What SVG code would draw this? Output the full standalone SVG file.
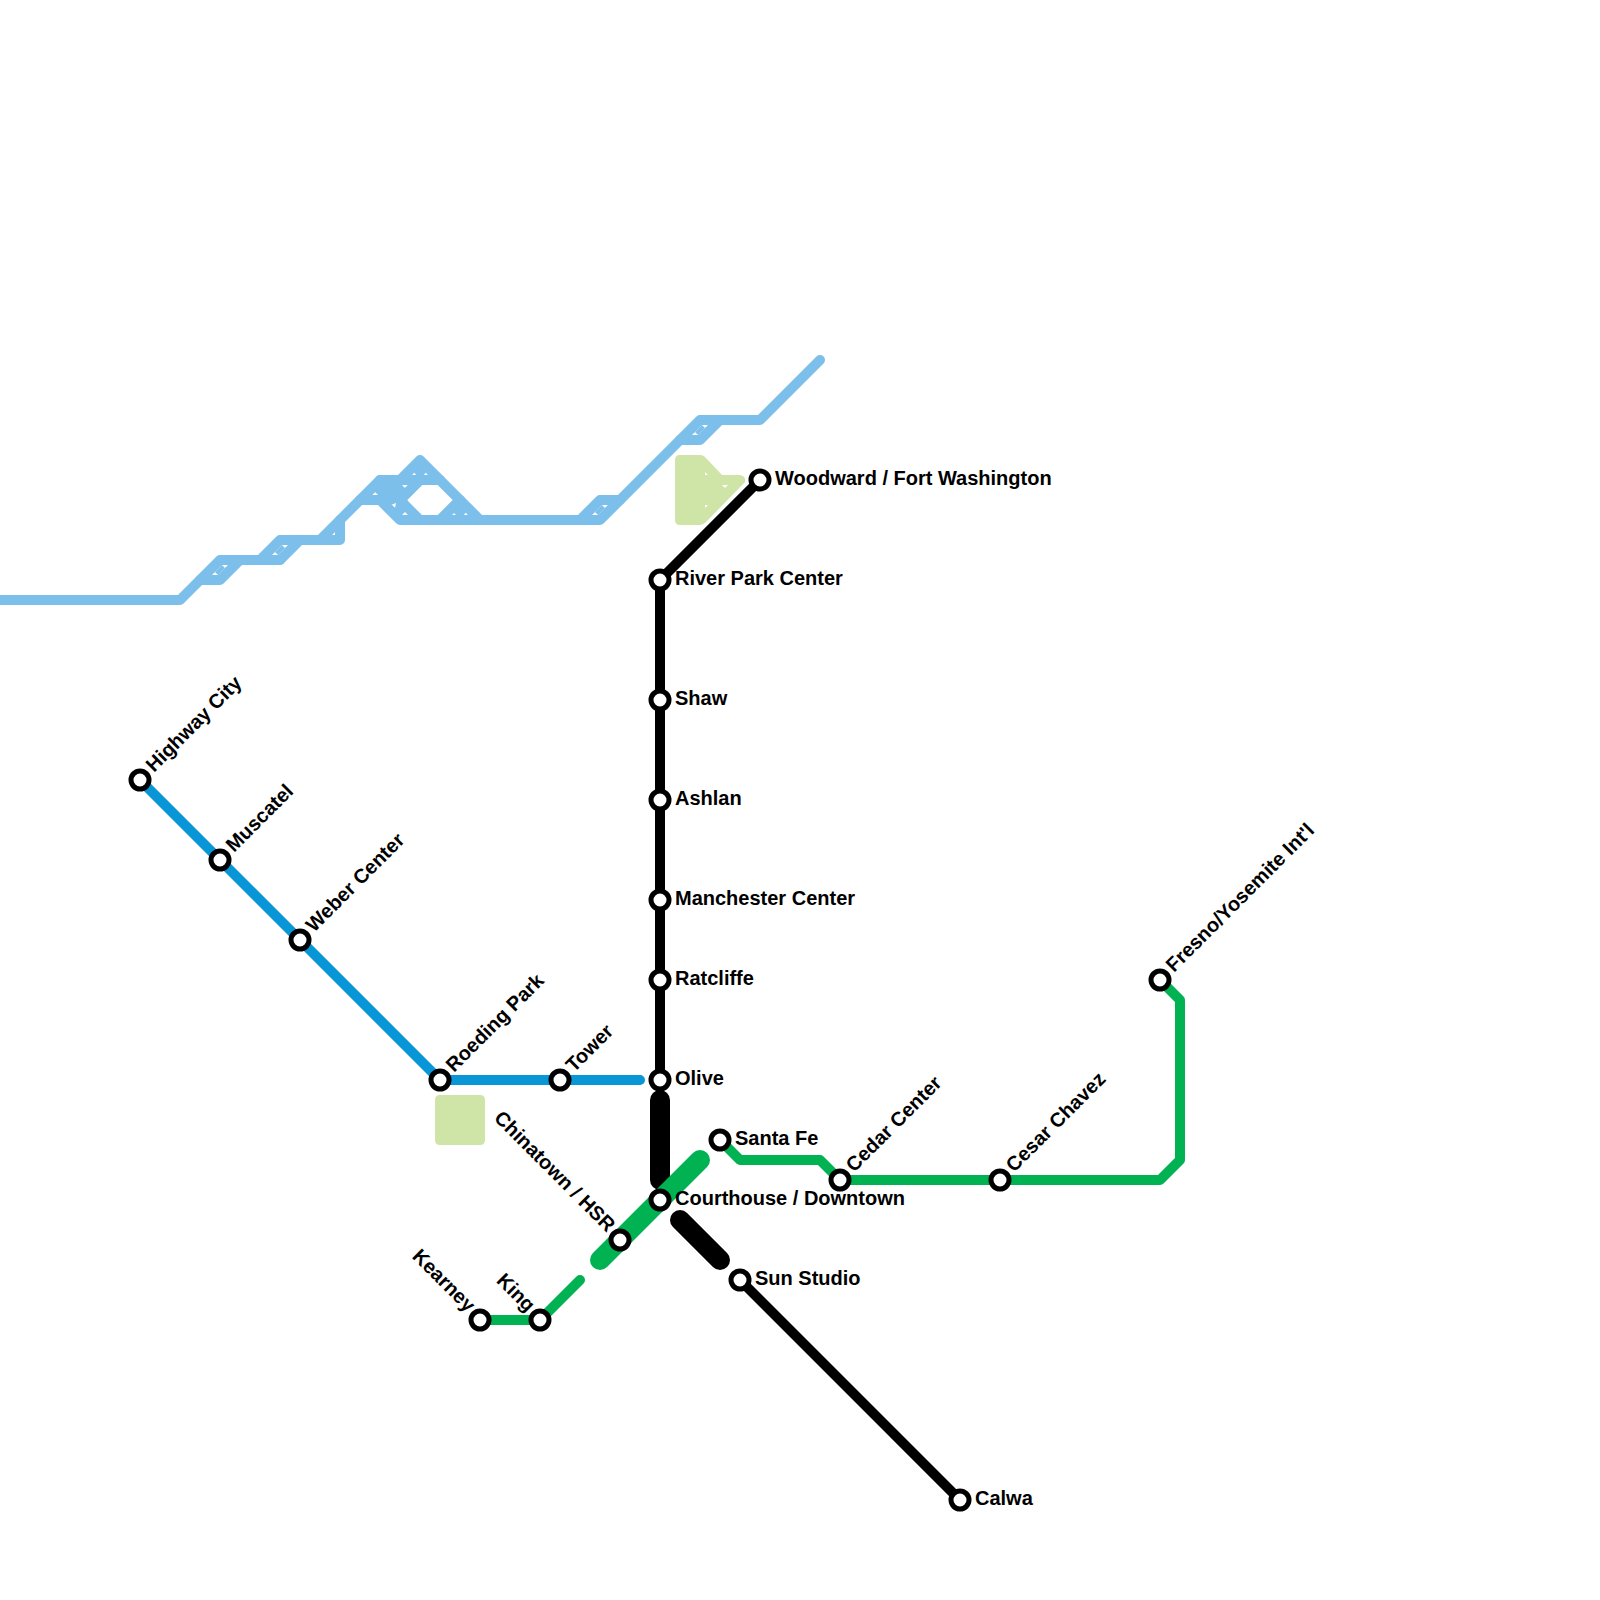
<svg xmlns="http://www.w3.org/2000/svg" width="1600" height="1600" viewBox="0 0 1600 1600">
<style>
.c{fill:none;stroke-linecap:round;stroke-linejoin:round}
.river{stroke:#7bbfea;stroke-width:10}
.patch{fill:#7bbfea;fill-rule:evenodd}
.blue{stroke:#0896d7;stroke-width:10}
.black{stroke:#000;stroke-width:10}
.green{stroke:#00b251;stroke-width:10}
.thick{stroke-width:20}
.park{fill:#cfe4a7;fill-rule:evenodd}
.st{fill:#fff;stroke:#000;stroke-width:5}
text{font-family:"Liberation Sans",Arial,sans-serif;font-weight:700;font-size:20px;fill:#000}
.e{text-anchor:end}
</style>
<g id="parks">
<path class="park" d="M440 1095H480Q485 1095 485 1100V1140Q485 1145 480 1145H440Q435 1145 435 1140V1100Q435 1095 440 1095Z"/>
<path class="park" d="M680 455H700Q703 455 705 457L722 475H740Q746 476 745 482L706 522Q703 525 700 525H680Q675 525 675 520V460Q675 455 680 455ZM705 472V475H708ZM722 485H728L725 488ZM705 505H708L705 508Z"/>
</g>
<g id="river">
<path class="patch" d="M222 565L225 568L228 565L218 575L215 572L212 575Z"/>
<path class="patch" d="M282 545L285 548L288 545L278 555L275 552L272 555Z"/>
<path class="patch" d="M602 505L605 508L608 505L598 515L595 512L592 515Z"/>
<path class="patch" d="M702 425L705 428L708 425L698 435L695 432L692 435Z"/>
<path class="patch" d="M360 500L380 480H400L420 460L480 520H400L380 500ZM407 500L422 485H438L453 500L438 515H422ZM372 495H378L375 492ZM391 505L395 508L396 503ZM402 515H408L405 512ZM402 485H408L405 488ZM411 475H416L414 472ZM424 475H429L426 472ZM451 515H456L453 512ZM464 515H469L466 512Z"/>
<g class="c river">
<path d="M0 600H180L220 560H280"/>
<path d="M200 580H220L240 560"/>
<path d="M260 560L280 540H340V520L380 480H440"/>
<path d="M280 560L300 540"/>
<path d="M320 540L340 520"/>
<path d="M360 500H380L420 460L480 520"/>
<path d="M380 480L403 503"/>
<path d="M380 500L400 520H600L700 420H760L820 360"/>
<path d="M400 500L420 480"/>
<path d="M440 520L460 500"/>
<path d="M580 520L600 500H620"/>
<path d="M680 440H700L720 420"/>
</g>
</g>
<g id="connectors" class="c">
<path class="blue" d="M140 780L440 1080H640"/>
<path class="black" d="M760 480L660 580V1080"/>
<path class="black thick" d="M660 1100V1180"/>
<path class="black thick" d="M680 1220L720 1260"/>
<path class="black" d="M740 1280L960 1500"/>
<path class="green thick" d="M600 1260L700 1160"/>
<path class="green" d="M480 1320H540L580 1280"/>
<path class="green" d="M720 1140L740 1160H820L840 1180H1160L1180 1160V1000L1160 980"/>
</g>
<g id="n-highway-city"><circle class="st" cx="140" cy="780" r="9"/><text transform="translate(154,773) rotate(-45)">Highway City</text></g>
<g id="n-muscatel"><circle class="st" cx="220" cy="860" r="9"/><text transform="translate(234,853) rotate(-45)">Muscatel</text></g>
<g id="n-weber-center"><circle class="st" cx="300" cy="940" r="9"/><text transform="translate(314,933) rotate(-45)">Weber Center</text></g>
<g id="n-roeding-park"><circle class="st" cx="440" cy="1080" r="9"/><text transform="translate(454,1073) rotate(-45)">Roeding Park</text></g>
<g id="n-tower"><circle class="st" cx="560" cy="1080" r="9"/><text transform="translate(574,1073) rotate(-45)">Tower</text></g>
<g id="n-woodward"><circle class="st" cx="760" cy="480" r="9"/><text x="775" y="485">Woodward / Fort Washington</text></g>
<g id="n-river-park"><circle class="st" cx="660" cy="580" r="9"/><text x="675" y="585">River Park Center</text></g>
<g id="n-shaw"><circle class="st" cx="660" cy="700" r="9"/><text x="675" y="705">Shaw</text></g>
<g id="n-ashlan"><circle class="st" cx="660" cy="800" r="9"/><text x="675" y="805">Ashlan</text></g>
<g id="n-manchester"><circle class="st" cx="660" cy="900" r="9"/><text x="675" y="905">Manchester Center</text></g>
<g id="n-ratcliffe"><circle class="st" cx="660" cy="980" r="9"/><text x="675" y="985">Ratcliffe</text></g>
<g id="n-olive"><circle class="st" cx="660" cy="1080" r="9"/><text x="675" y="1085">Olive</text></g>
<g id="n-courthouse"><circle class="st" cx="660" cy="1200" r="9"/><text x="675" y="1205">Courthouse / Downtown</text></g>
<g id="n-sun-studio"><circle class="st" cx="740" cy="1280" r="9"/><text x="755" y="1285">Sun Studio</text></g>
<g id="n-calwa"><circle class="st" cx="960" cy="1500" r="9"/><text x="975" y="1505">Calwa</text></g>
<g id="n-santa-fe"><circle class="st" cx="720" cy="1140" r="9"/><text x="735" y="1145">Santa Fe</text></g>
<g id="n-cedar-center"><circle class="st" cx="840" cy="1180" r="9"/><text transform="translate(854,1173) rotate(-45)">Cedar Center</text></g>
<g id="n-cesar-chavez"><circle class="st" cx="1000" cy="1180" r="9"/><text transform="translate(1014,1173) rotate(-45)">Cesar Chavez</text></g>
<g id="n-fresno"><circle class="st" cx="1160" cy="980" r="9"/><text transform="translate(1174,973) rotate(-45)">Fresno/Yosemite Int'l</text></g>
<g id="n-chinatown"><circle class="st" cx="620" cy="1240" r="9"/><text class="e" transform="translate(607,1233) rotate(45)">Chinatown / HSR</text></g>
<g id="n-king"><circle class="st" cx="540" cy="1320" r="9"/><text class="e" transform="translate(527,1313) rotate(45)">King</text></g>
<g id="n-kearney"><circle class="st" cx="480" cy="1320" r="9"/><text class="e" transform="translate(467,1313) rotate(45)">Kearney</text></g>
</svg>
